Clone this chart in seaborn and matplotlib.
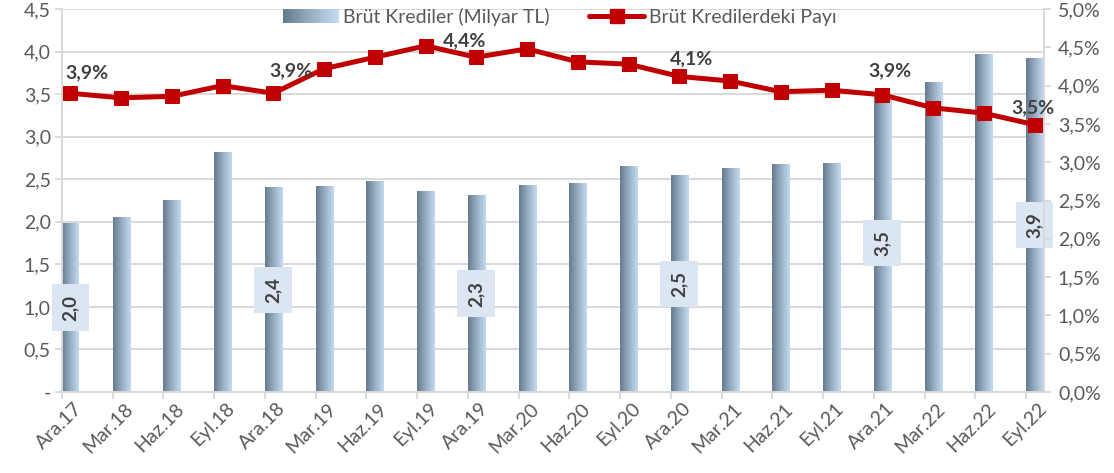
import numpy as np
import pandas as pd
import matplotlib
matplotlib.use("Agg")
import matplotlib.pyplot as plt
import matplotlib.transforms as mtransforms
import seaborn as sns
from matplotlib.colors import LinearSegmentedColormap
from matplotlib.legend_handler import HandlerBase
from matplotlib.patches import Rectangle
from matplotlib.lines import Line2D
from matplotlib.ticker import FixedLocator, FuncFormatter

# ---- data ----
periods = ["Ara.17", "Mar.18", "Haz.18", "Eyl.18", "Ara.18", "Mar.19", "Haz.19",
           "Eyl.19", "Ara.19", "Mar.20", "Haz.20", "Eyl.20", "Ara.20", "Mar.21",
           "Haz.21", "Eyl.21", "Ara.21", "Mar.22", "Haz.22", "Eyl.22"]
gross_loans = [1.98, 2.05, 2.25, 2.81, 2.40, 2.41, 2.47, 2.35, 2.31, 2.43,
               2.45, 2.65, 2.54, 2.63, 2.67, 2.69, 3.50, 3.64, 3.96, 3.92]
share_pct = [3.90, 3.84, 3.86, 4.00, 3.90, 4.22, 4.37, 4.52, 4.37, 4.48,
             4.31, 4.28, 4.12, 4.06, 3.92, 3.94, 3.88, 3.71, 3.64, 3.49]
labelled = ["Ara.17", "Ara.18", "Ara.19", "Ara.20", "Ara.21", "Eyl.22"]
left_ticks = [0.0, 0.5, 1.0, 1.5, 2.0, 2.5, 3.0, 3.5, 4.0, 4.5]
right_ticks = [0.0, 0.5, 1.0, 1.5, 2.0, 2.5, 3.0, 3.5, 4.0, 4.5, 5.0]

bar_name = "Brüt Krediler (Milyar TL)"
line_name = "Brüt Kredilerdeki Payı"

# ---- styling ----
RED = "#C00000"
GRID = "#D9D9D9"
TXT = "#595959"
LBL = "#404040"
grad_cmap = LinearSegmentedColormap.from_list("bar_grad", ["#667B8F", "#98AEC3", "#C3DBF0"])
# offsets (points) of the percentage labels from their markers
pct_offsets = {"Ara.17": (12, 15), "Ara.18": (12.5, 16), "Ara.19": (-8.5, 12),
               "Ara.20": (8.5, 13), "Ara.21": (5.5, 17), "Eyl.22": (-1, 12.5)}

sns.set_theme(style="white")
plt.rcParams["font.family"] = ["Lato", "DejaVu Sans"]

df = pd.DataFrame({"period": periods, "loans": gross_loans, "share": share_pct})
df["pos"] = np.arange(len(df))

fig = plt.figure(figsize=(11.14, 4.73), dpi=100)
ax = fig.add_axes([62 / 1114, 1 - 392 / 473, (1044 - 62) / 1114, (392 - 9) / 473])

sns.barplot(data=df, x="period", y="loans", ax=ax, width=0.335, color="#98AEC3",
            saturation=1, zorder=2)

# horizontal gradient on every bar
grad = np.linspace(0, 1, 64).reshape(1, -1)
for p in list(ax.patches):
    x0, y0 = p.get_x(), p.get_y()
    w, h = p.get_width(), p.get_height()
    ax.imshow(grad, extent=[x0, x0 + w, y0, y0 + h], cmap=grad_cmap, aspect="auto",
              interpolation="bicubic", zorder=2)
    p.set_facecolor("none")
    p.set_edgecolor("none")

# value boxes on selected bars
for _, r in df[df["period"].isin(labelled)].iterrows():
    ax.text(r["pos"], r["loans"] / 2, f"{r['loans']:.1f}".replace(".", ","),
            rotation=90, ha="center", va="center", fontsize=13.5, fontweight="bold",
            color=LBL, zorder=4,
            bbox=dict(boxstyle="square,pad=0.55", facecolor="#DCE6F2", edgecolor="none"))

ax.set_xlim(-0.164, len(df) - 1 + 0.187)
ax.set_ylim(0, 4.5)
ax.set_xlabel("")
ax.set_ylabel("")

# category boundary ticks (major) and labels at the category centres (minor)
ax.xaxis.set_major_locator(FixedLocator(df["pos"].values - 0.164))
ax.xaxis.set_major_formatter(FuncFormatter(lambda v, i: ""))
ax.xaxis.set_minor_locator(FixedLocator(df["pos"].values))
ax.set_xticklabels(periods, minor=True, rotation=45, ha="right", va="center",
                   rotation_mode="anchor")
ax.tick_params(axis="x", which="major", length=5, width=1.3, color=GRID, direction="out",
               bottom=True)
ax.tick_params(axis="x", which="minor", length=0, pad=10, labelsize=14, labelcolor=TXT,
               bottom=True)
shift = mtransforms.ScaledTranslation(9 / 100, 0, fig.dpi_scale_trans)
for t in ax.get_xticklabels(minor=True):
    t.set_transform(t.get_transform() + shift)

ax.set_yticks(left_ticks)
ax.set_yticklabels(["-" if v == 0 else f"{v:.1f}".replace(".", ",") for v in left_ticks])
ax.tick_params(axis="y", length=5, width=1.3, color=GRID, direction="out", left=True,
               labelsize=14, labelcolor=TXT, pad=3)
ax.yaxis.grid(True, color=GRID, linewidth=1.4)
ax.set_axisbelow(True)
for s in ["top", "right"]:
    ax.spines[s].set_visible(False)
for s in ["left", "bottom"]:
    ax.spines[s].set_color(GRID)
    ax.spines[s].set_linewidth(1.4)

# share line on the secondary axis
ax2 = ax.twinx()
sns.lineplot(data=df, x="pos", y="share", ax=ax2, color=RED, linewidth=3.6,
             marker="s", markersize=10.5, markeredgecolor=RED, zorder=5)
ax2.set_ylim(0, 5)
ax2.set_xlim(ax.get_xlim())
ax2.set_xlabel("")
ax2.set_ylabel("")
ax2.set_yticks(right_ticks)
ax2.set_yticklabels([f"{v:.1f}%".replace(".", ",") for v in right_ticks])
ax2.tick_params(axis="y", length=5, width=1.3, color=GRID, direction="out", right=True,
                labelsize=14, labelcolor=TXT, pad=5)
ax2.grid(False)
for s in ["top", "left", "bottom"]:
    ax2.spines[s].set_visible(False)
ax2.spines["right"].set_color(GRID)
ax2.spines["right"].set_linewidth(1.4)

for _, r in df[df["period"].isin(labelled)].iterrows():
    ax2.annotate(f"{r['share']:.1f}%".replace(".", ","), (r["pos"], r["share"]),
                 xytext=pct_offsets[r["period"]], textcoords="offset points",
                 ha="center", va="center", fontsize=14, fontweight="bold",
                 color=LBL, zorder=6)


class GradientHandler(HandlerBase):
    def create_artists(self, legend, orig_handle, xdescent, ydescent, width, height,
                       fontsize, trans):
        n = 30
        arts = []
        for k in range(n):
            arts.append(Rectangle((-xdescent + width * k / n, -ydescent), width / n * 1.1,
                                  height, facecolor=grad_cmap(k / (n - 1)),
                                  edgecolor="none", transform=trans))
        return arts


bar_handle = Rectangle((0, 0), 1, 1)
line_handle = Line2D([], [], color=RED, linewidth=3.6, marker="s", markersize=10.5)
fig.legend([bar_handle, line_handle], [bar_name, line_name], loc="center",
           bbox_to_anchor=(560 / 1114, 1 - 17 / 473), ncol=2, frameon=False,
           handler_map={Rectangle: GradientHandler()}, handlelength=2.85,
           handleheight=0.7, columnspacing=2.0, handletextpad=0.25, numpoints=1,
           prop={"size": 14}, labelcolor=TXT)

fig.savefig("out.png", dpi=100)
